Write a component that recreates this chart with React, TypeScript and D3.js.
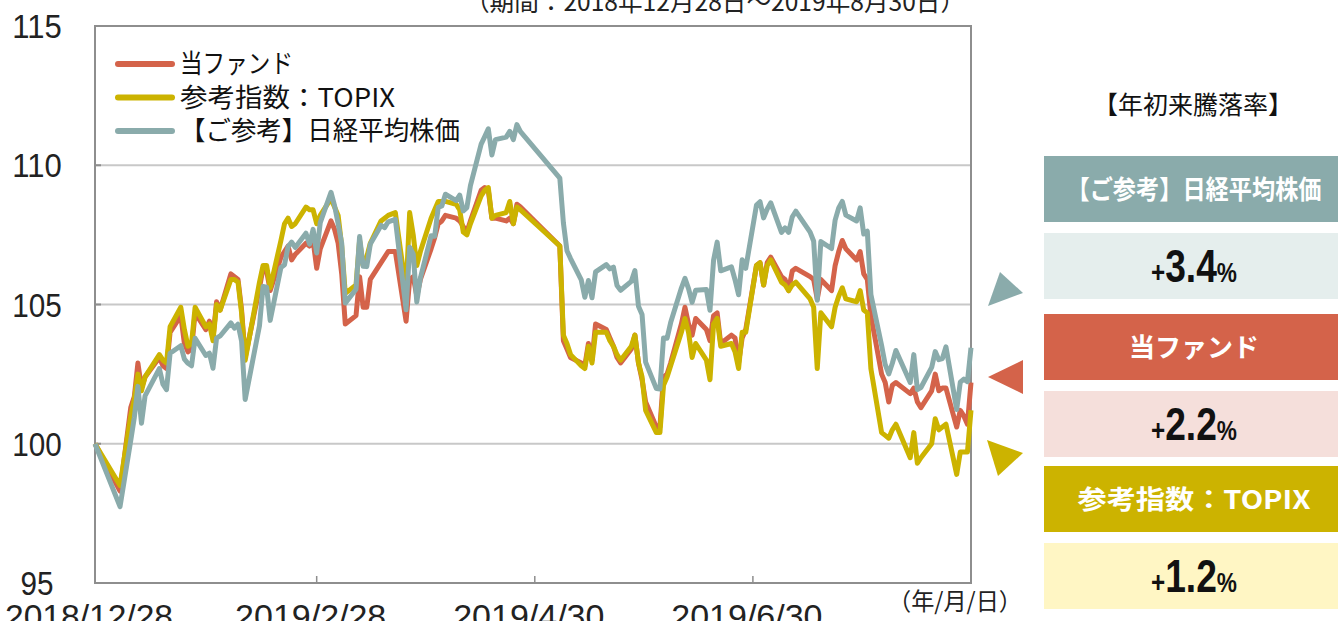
import React from "react";
import * as d3 from "d3";

// trading days shown in the chart (12/28/2018 = 100)
const dates = [
  "2018-12-28",
  "2019-01-04", "2019-01-07", "2019-01-08", "2019-01-09", "2019-01-10", "2019-01-11", "2019-01-15", "2019-01-16", "2019-01-17", "2019-01-18",
  "2019-01-21", "2019-01-22", "2019-01-23", "2019-01-24", "2019-01-25", "2019-01-28", "2019-01-29", "2019-01-30", "2019-01-31",
  "2019-02-01", "2019-02-04", "2019-02-05", "2019-02-06", "2019-02-07", "2019-02-08", "2019-02-12", "2019-02-13", "2019-02-14", "2019-02-15",
  "2019-02-18", "2019-02-19", "2019-02-20", "2019-02-21", "2019-02-22", "2019-02-25", "2019-02-26", "2019-02-27", "2019-02-28",
  "2019-03-01", "2019-03-04", "2019-03-05", "2019-03-06", "2019-03-07", "2019-03-08", "2019-03-11", "2019-03-12", "2019-03-13", "2019-03-14",
  "2019-03-15", "2019-03-18", "2019-03-19", "2019-03-20", "2019-03-22", "2019-03-25", "2019-03-26", "2019-03-27", "2019-03-28", "2019-03-29",
  "2019-04-01", "2019-04-02", "2019-04-03", "2019-04-04", "2019-04-05", "2019-04-08", "2019-04-09", "2019-04-10", "2019-04-11", "2019-04-12",
  "2019-04-15", "2019-04-16", "2019-04-17", "2019-04-18", "2019-04-19", "2019-04-22", "2019-04-23", "2019-04-24", "2019-04-25", "2019-04-26",
  "2019-05-07", "2019-05-08", "2019-05-09", "2019-05-10", "2019-05-13", "2019-05-14", "2019-05-15", "2019-05-16", "2019-05-17", "2019-05-20",
  "2019-05-21", "2019-05-22", "2019-05-23", "2019-05-24", "2019-05-27", "2019-05-28", "2019-05-29", "2019-05-30", "2019-05-31",
  "2019-06-03", "2019-06-04", "2019-06-05", "2019-06-06", "2019-06-07", "2019-06-10", "2019-06-11", "2019-06-12", "2019-06-13", "2019-06-14",
  "2019-06-17", "2019-06-18", "2019-06-19", "2019-06-20", "2019-06-21", "2019-06-24", "2019-06-25", "2019-06-26", "2019-06-27", "2019-06-28",
  "2019-07-01", "2019-07-02", "2019-07-03", "2019-07-04", "2019-07-05", "2019-07-08", "2019-07-09", "2019-07-10", "2019-07-11", "2019-07-12",
  "2019-07-16", "2019-07-17", "2019-07-18", "2019-07-19", "2019-07-22", "2019-07-23", "2019-07-24", "2019-07-25", "2019-07-26", "2019-07-29",
  "2019-07-30", "2019-07-31",
  "2019-08-01", "2019-08-02", "2019-08-05", "2019-08-06", "2019-08-07", "2019-08-08", "2019-08-09", "2019-08-13", "2019-08-14", "2019-08-15",
  "2019-08-16", "2019-08-19", "2019-08-20", "2019-08-21", "2019-08-22", "2019-08-23", "2019-08-26", "2019-08-27", "2019-08-28", "2019-08-29",
  "2019-08-30",
];

const fund = [
  100,
  98.3, 101.3, 101.7, 102.9, 102.0, 102.4, 103.1, 102.8, 102.7, 104.0,
  104.6, 103.6, 103.3, 103.4, 104.7, 104.1, 104.4, 103.8, 105.1,
  104.8, 106.1, 106.0, 105.9, 104.8, 103.1, 105.6, 106.3, 106.2, 105.5,
  106.7, 106.9, 107.1, 106.6, 106.8, 107.2, 107.1, 107.3, 106.3,
  107.0, 108.0, 107.7, 107.2, 106.1, 104.3, 104.6, 106.0, 104.9, 104.9,
  105.9, 106.5, 106.7, 106.9, 106.9, 104.4, 105.9, 106.0, 105.3, 105.9,
  107.0, 107.4, 107.9, 108.0, 108.2, 108.1, 108.0, 107.8, 107.6, 108.0,
  109.1, 109.2, 109.1, 108.1, 108.1, 108.0, 108.1, 107.9, 108.6, 108.5,
  107.1, 103.7, 103.4, 103.1, 102.9, 102.8, 103.6, 103.0, 104.3, 104.1,
  103.8, 103.5, 103.1, 102.9, 103.4, 103.9, 102.9, 102.3, 101.5,
  100.6, 100.6, 102.4, 102.5, 102.9, 104.3, 104.9, 104.3, 103.9, 104.5,
  104.1, 103.7, 104.6, 104.7, 103.6, 103.9, 103.8, 102.9, 103.8, 104.1,
  106.4, 106.5, 105.7, 106.5, 106.7, 106.0, 105.9, 105.5, 106.2, 106.3,
  106.0, 105.9, 105.2, 105.9, 105.5, 106.4, 106.9, 107.3, 107.0, 106.6,
  106.9, 106.1,
  105.9, 104.6, 102.5, 102.2, 101.5, 102.1, 102.2, 101.8, 102.0, 101.5,
  101.3, 101.9, 102.5, 101.9, 102.0, 102.0, 100.6, 101.2, 101.0, 100.7,
  102.2,
];

const topix = [
  100,
  98.5, 101.0, 101.6, 102.5, 101.9, 102.4, 103.2, 103.0, 102.9, 104.2,
  104.9, 104.1, 103.5, 103.6, 104.9, 104.2, 104.3, 103.7, 105.0,
  104.8, 105.9, 105.9, 105.8, 104.7, 103.0, 105.8, 106.4, 106.4, 105.6,
  107.3, 107.9, 108.1, 107.8, 107.9, 108.5, 108.4, 108.4, 107.9,
  108.2, 108.8, 108.5, 108.2, 107.1, 105.4, 105.7, 107.3, 106.4, 106.7,
  107.2, 108.0, 108.1, 108.2, 108.3, 105.5, 108.3, 107.5, 106.4, 106.9,
  108.1, 108.4, 108.7, 108.7, 108.7, 108.6, 108.4, 107.6, 107.5, 107.9,
  108.9, 109.1, 109.2, 108.1, 108.2, 108.3, 108.7, 107.9, 108.5, 108.4,
  107.1, 103.9, 103.6, 103.2, 102.8, 102.7, 103.5, 102.9, 104.0, 104.0,
  103.7, 103.5, 103.2, 103.0, 103.5, 103.9, 102.9, 102.4, 101.2,
  100.4, 100.4, 102.1, 102.4, 102.8, 104.0, 104.5, 104.0, 103.1, 103.6,
  103.0, 102.3, 104.3, 104.5, 103.5, 103.6, 103.3, 102.7, 104.0, 104.0,
  106.4, 106.5, 105.7, 106.4, 106.6, 105.8, 105.7, 105.5, 105.7, 105.8,
  105.2, 104.9, 102.7, 104.7, 104.2, 104.9, 105.3, 105.6, 105.2, 105.1,
  105.5, 104.8,
  104.7, 102.7, 100.4, 100.3, 100.2, 100.5, 100.7, 99.5, 100.4, 99.3,
  99.5, 100.0, 100.9, 100.5, 100.6, 100.7, 98.9, 99.7, 99.7, 99.7,
  101.2,
];

const nikkei = [
  100,
  97.74, 100.12, 100.95, 102.06, 100.74, 101.72, 102.7, 102.14, 101.94, 103.25,
  103.52, 103.04, 102.89, 102.8, 103.79, 103.17, 103.25, 102.71, 103.79,
  103.87, 104.34, 104.15, 104.29, 103.68, 101.59, 104.24, 105.65, 105.62, 104.43,
  106.33, 106.43, 107.08, 107.24, 107.05, 107.56, 107.17, 107.7, 106.85,
  107.94, 109.03, 108.55, 107.9, 107.2, 105.05, 105.55, 107.44, 106.37, 106.36,
  107.17, 107.84, 107.76, 107.97, 108.06, 104.81, 107.06, 106.81, 105.09, 105.95,
  107.47, 107.45, 108.49, 108.54, 108.96, 108.73, 108.93, 108.36, 108.48, 109.27,
  110.76, 111.03, 111.31, 110.37, 110.92, 111.01, 111.22, 110.92, 111.46, 111.21,
  109.54, 107.93, 106.93, 106.65, 105.88, 105.26, 105.86, 105.24, 106.17, 106.43,
  106.28, 106.34, 105.68, 105.51, 105.83, 106.22, 104.94, 104.64, 102.93,
  101.98, 101.97, 103.8, 103.79, 104.35, 105.59, 105.94, 105.57, 105.08, 105.51,
  105.54, 104.79, 106.59, 107.24, 106.21, 106.35, 105.89, 105.35, 106.61, 106.3,
  108.57, 108.69, 108.11, 108.43, 108.65, 107.59, 107.75, 107.59, 108.14, 108.35,
  107.6, 107.27, 105.15, 107.26, 107.01, 108.03, 108.47, 108.7, 108.21, 108.0,
  108.47, 107.53,
  107.63, 105.36, 103.53, 102.85, 102.51, 102.89, 103.35, 102.2, 103.2, 101.95,
  102.02, 102.74, 103.31, 103.02, 103.06, 103.48, 101.23, 102.21, 102.32, 102.23,
  103.45,
];

const seriesNames = ["当ファンド", "参考指数：TOPIX", "【ご参考】日経平均株価"];
const yTicks = [95, 100, 105, 110, 115];
const xTickDates = ["2018-12-28", "2019-02-28", "2019-04-30", "2019-06-30"];
const xTickLabels = ["2018/12/28", "2019/2/28", "2019/4/30", "2019/6/30"];
const periodStart = "2018-12-28";
const periodEnd = "2019-08-30";
const periodText = "（期間：2018年12月28日〜2019年8月30日）";
const unitText = "（年/月/日）";

const panelTitle = "【年初来騰落率】";
const panelNames = ["【ご参考】日経平均株価", "当ファンド", "参考指数：TOPIX"];
const panelReturns = [3.4, 2.2, 1.2];

const RED = "#D4634A";
const YELLOW = "#CCB300";
const TEAL = "#8AABAB";
const NARROW = '"Liberation Sans Narrow", "Liberation Sans", Arial, sans-serif';
const JP = '"Noto Sans CJK JP", "Noto Sans", sans-serif';

export default function App() {
  const W = 1338;
  const H = 621;
  const m = { left: 95, right: 971, top: 26, bottom: 583 };

  const parse = d3.timeParse("%Y-%m-%d");
  const x = d3
    .scaleTime()
    .domain([parse(periodStart) as Date, parse(periodEnd) as Date])
    .range([m.left, m.right]);
  const y = d3.scaleLinear().domain([95, 115]).range([m.bottom, m.top]);

  const xs = dates.map((d) => x(parse(d) as Date));
  const line = d3
    .line<number>()
    .x((_, i) => xs[i])
    .y((v) => y(v));

  const series = [
    { name: seriesNames[0], values: fund, color: RED },
    { name: seriesNames[1], values: topix, color: YELLOW },
    { name: seriesNames[2], values: nikkei, color: TEAL },
  ];
  const legendWidths = [113, 215, 280];

  // right panel layout
  const panelX = 1044;
  const panelW = W - panelX;
  const headTops = [156, 314, 466];
  const valueTops = [233, 391, 543];
  const boxH = 66;
  const headColors = [TEAL, RED, YELLOW];
  const lightColors = ["#E5EEED", "#F5DFDB", "#FFF6C4"];
  const headWidths = [255, 130, 233];
  const arrows = [
    "988,306 1023,293 1000,272",
    "988,377 1023,360 1023,394",
    "987,440 1023,453 998,476",
  ];
  const fmt = d3.format(".1f");

  return (
    <svg
      width={W}
      height={H}
      style={{ position: "absolute", left: 0, top: 0, background: "#fff" }}
    >
      {/* period */}
      <text
        x={465}
        y={11}
        fontFamily={JP}
        fontSize={25}
        textLength={500}
        lengthAdjust="spacingAndGlyphs"
        fill="#222"
      >
        {periodText}
      </text>

      {/* grid */}
      {yTicks
        .filter((t) => t > 95 && t < 115)
        .map((t) => (
          <g key={t}>
            <line x1={m.left} x2={m.right} y1={y(t)} y2={y(t)} stroke="#c8c8c8" strokeWidth={2} />
            <line x1={m.left} x2={m.left + 6} y1={y(t)} y2={y(t)} stroke="#8e8e8e" strokeWidth={2} />
          </g>
        ))}
      {xTickDates.slice(1).map((d) => (
        <line
          key={d}
          x1={x(parse(d) as Date)}
          x2={x(parse(d) as Date)}
          y1={m.bottom}
          y2={m.bottom - 7}
          stroke="#8e8e8e"
          strokeWidth={1.5}
        />
      ))}
      <rect
        x={m.left}
        y={m.top}
        width={m.right - m.left}
        height={m.bottom - m.top}
        fill="none"
        stroke="#8e8e8e"
        strokeWidth={2}
      />

      {/* y labels */}
      {yTicks.map((t) => (
        <text
          key={t}
          x={37}
          y={y(t) + 12}
          textAnchor="middle"
          fontFamily={NARROW}
          fontSize={33}
          textLength={String(t).length * 16.5}
          lengthAdjust="spacingAndGlyphs"
          fill="#222"
        >
          {t}
        </text>
      ))}

      {/* x labels */}
      {xTickDates.map((d, i) => (
        <text
          key={d}
          x={x(parse(d) as Date) - 6}
          y={628}
          textAnchor="middle"
          fontFamily={NARROW}
          fontSize={33}
          textLength={16.8 * xTickLabels[i].length}
          lengthAdjust="spacingAndGlyphs"
          fill="#222"
        >
          {xTickLabels[i]}
        </text>
      ))}
      <text
        x={888}
        y={610}
        fontFamily={JP}
        fontSize={24}
        textLength={134}
        lengthAdjust="spacingAndGlyphs"
        fill="#222"
      >
        {unitText}
      </text>

      {/* lines */}
      {series.map((s) => (
        <path
          key={s.name}
          d={line(s.values) || ""}
          fill="none"
          stroke={s.color}
          strokeWidth={5}
          strokeLinejoin="round"
        />
      ))}

      {/* legend */}
      {series.map((s, i) => (
        <g key={s.name} transform={`translate(0,${64 + i * 33.5})`}>
          <line x1={118} x2={172} y1={0} y2={0} stroke={s.color} strokeWidth={6} strokeLinecap="round" />
          <text
            x={180}
            y={9}
            fontFamily={JP}
            fontSize={26}
            textLength={legendWidths[i]}
            lengthAdjust="spacingAndGlyphs"
            fill="#111"
          >
            {s.name}
          </text>
        </g>
      ))}

      {/* right panel */}
      <text
        x={1193}
        y={114}
        textAnchor="middle"
        fontFamily={JP}
        fontSize={25}
        textLength={200}
        lengthAdjust="spacingAndGlyphs"
        fill="#111"
      >
        {panelTitle}
      </text>
      {panelNames.map((name, i) => (
        <g key={name}>
          <rect x={panelX} y={headTops[i]} width={panelW} height={boxH} fill={headColors[i]} />
          <text
            x={1194}
            y={headTops[i] + 43}
            textAnchor="middle"
            fontFamily={JP}
            fontWeight={700}
            fontSize={26}
            textLength={headWidths[i]}
            lengthAdjust="spacingAndGlyphs"
            fill="#fff"
          >
            {name}
          </text>
          <rect x={panelX} y={valueTops[i]} width={panelW} height={boxH} fill={lightColors[i]} />
          <text
            x={1194}
            y={valueTops[i] + 49}
            textAnchor="middle"
            fontFamily={NARROW}
            fontWeight={700}
            textLength={86}
            lengthAdjust="spacingAndGlyphs"
            fill="#111"
          >
            <tspan fontSize={30}>{panelReturns[i] >= 0 ? "+" : "−"}</tspan>
            <tspan fontSize={46}>{fmt(Math.abs(panelReturns[i]))}</tspan>
            <tspan fontSize={28}>%</tspan>
          </text>
          <polygon points={arrows[i]} fill={headColors[i]} />
        </g>
      ))}
    </svg>
  );
}
